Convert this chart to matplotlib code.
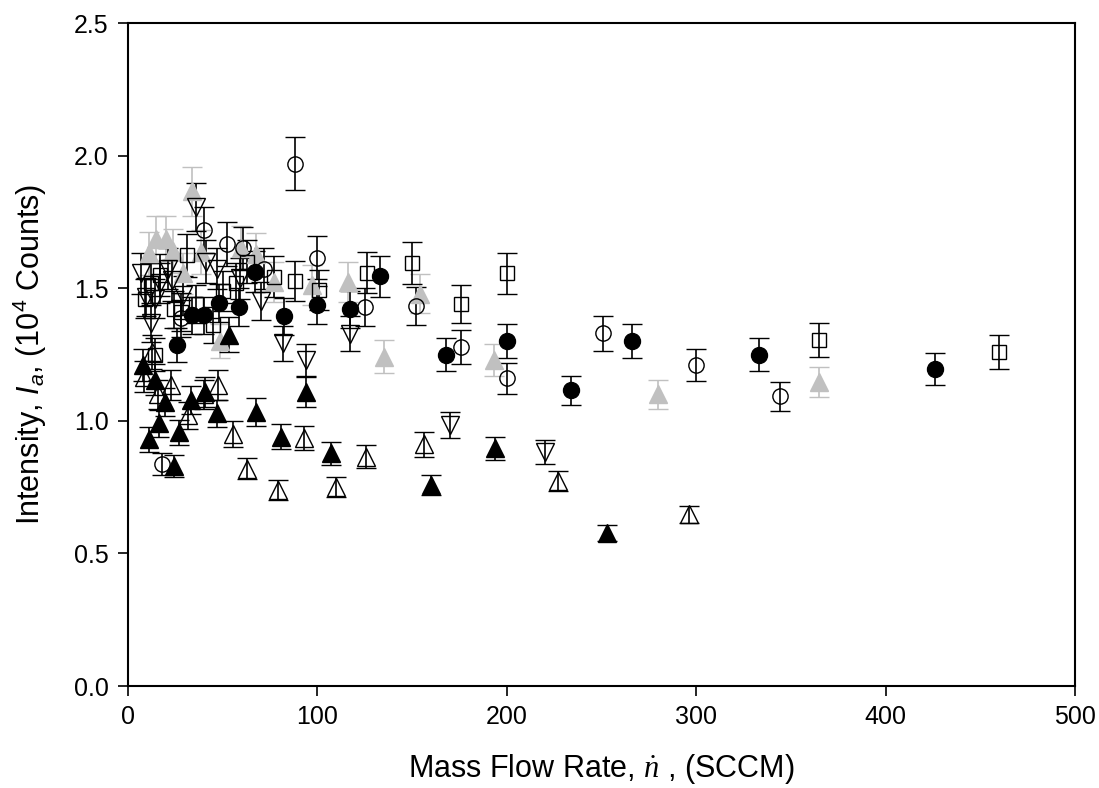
import matplotlib as mpl
import matplotlib.pyplot as plt

mpl.rcParams["font.family"] = "Liberation Sans"
mpl.rcParams["mathtext.fontset"] = "custom"
mpl.rcParams["mathtext.rm"] = "Liberation Sans"
mpl.rcParams["mathtext.it"] = "Liberation Sans:italic"
mpl.rcParams["mathtext.cal"] = "Liberation Serif:italic"

# relative error bar size, same for every point (about 5 %)
REL_ERR = 0.05

# grey filled up-triangles
gt_x = [11, 15, 20, 23.5, 28.8, 34, 38.4, 48.7, 59.5, 67.6, 77, 97, 116, 135, 154, 193, 280, 365]
gt_y = [1.631, 1.687, 1.687, 1.64, 1.556, 1.865, 1.637, 1.30, 1.653, 1.628, 1.524, 1.511, 1.524,
        1.241, 1.48, 1.229, 1.10, 1.146]

# open squares
sq_x = [9, 12, 14.5, 17, 24.5, 28, 31, 36, 45, 50, 57, 63, 77, 88, 101, 126, 150, 176, 200, 365, 460]
sq_y = [1.46, 1.52, 1.25, 1.55, 1.42, 1.41, 1.625, 1.44, 1.36, 1.49, 1.52, 1.60, 1.543, 1.527,
        1.493, 1.558, 1.595, 1.44, 1.556, 1.305, 1.26]

# open down-triangles
dt_x = [7, 9.5, 12, 14, 17, 21, 23, 29, 36, 41, 47, 59, 70, 82, 94, 117, 170, 220]
dt_y = [1.556, 1.467, 1.367, 1.461, 1.52, 1.574, 1.53, 1.474, 1.807, 1.60, 1.574, 1.537, 1.452,
        1.292, 1.229, 1.329, 0.984, 0.882]

# open up-triangles
ut_x = [8.5, 12.9, 15.6, 22.6, 31.4, 40.2, 47.6, 55.2, 62.7, 79, 93, 110, 125.4, 156.5, 227, 296]
ut_y = [1.166, 1.26, 1.10, 1.135, 1.021, 1.10, 1.135, 0.95, 0.82, 0.739, 0.935, 0.749, 0.864,
        0.911, 0.773, 0.648]

# open circles
oc_x = [18, 28, 40, 52, 60.5, 72, 88, 100, 125, 152, 176, 200, 251, 300, 344]
oc_y = [0.838, 1.386, 1.72, 1.668, 1.65, 1.574, 1.97, 1.615, 1.43, 1.433, 1.277, 1.161, 1.33,
        1.21, 1.092]

# black filled up-triangles
bt_x = [7.7, 11.2, 14.2, 16.5, 19.4, 24.2, 27, 33.2, 40.6, 47, 53.5, 67.5, 80.5, 94, 107, 160, 194, 253]
bt_y = [1.21, 0.93, 1.155, 0.99, 1.072, 0.83, 0.956, 1.078, 1.109, 1.028, 1.325, 1.034, 0.94,
        1.109, 0.877, 0.758, 0.896, 0.577]

# black filled circles
fc_x = [26, 34, 40, 48, 58.5, 67, 82.5, 100, 117, 133, 168, 200, 234, 266, 333, 426]
fc_y = [1.285, 1.398, 1.398, 1.443, 1.43, 1.562, 1.395, 1.436, 1.42, 1.545, 1.25, 1.30, 1.115,
        1.30, 1.25, 1.195]

grey = "#c0c0c0"

fig = plt.figure(figsize=(10.99, 7.88), dpi=100)
ax = fig.add_axes([0.1165, 0.1294, 0.8617, 0.8414])

series = [
    (gt_x, gt_y, "^", grey, grey, grey, 12.5),
    (sq_x, sq_y, "s", "none", "black", "black", 10),
    (dt_x, dt_y, "v", "none", "black", "black", 12.5),
    (ut_x, ut_y, "^", "none", "black", "black", 12.5),
    (oc_x, oc_y, "o", "none", "black", "black", 11),
    (bt_x, bt_y, "^", "black", "black", "black", 12.5),
    (fc_x, fc_y, "o", "black", "black", "black", 11.5),
]

for x, y, marker, face, edge, ecol, ms in series:
    yerr = [REL_ERR * v for v in y]
    ax.errorbar(x, y, yerr=yerr, fmt=marker, ms=ms, mfc=face, mec=edge, mew=1.0,
                ecolor=ecol, elinewidth=1.2, capsize=7, capthick=1.2)

ax.set_xlim(0, 500)
ax.set_ylim(0, 2.5)
ax.set_xticks([0, 100, 200, 300, 400, 500])
ax.set_yticks([0.0, 0.5, 1.0, 1.5, 2.0, 2.5])
ax.set_yticklabels(["0.0", "0.5", "1.0", "1.5", "2.0", "2.5"])
ax.tick_params(direction="out", length=7, width=1.2, labelsize=18, pad=7)
for sp in ax.spines.values():
    sp.set_linewidth(1.5)

ax.set_xlabel(r"Mass Flow Rate, $\mathcal{\dot{n}}$ , (SCCM)", fontsize=22, labelpad=16)
ax.set_ylabel(r"Intensity, $I_a$, (10$^4$ Counts)", fontsize=22, labelpad=18)

fig.savefig("out.png", dpi=100)
